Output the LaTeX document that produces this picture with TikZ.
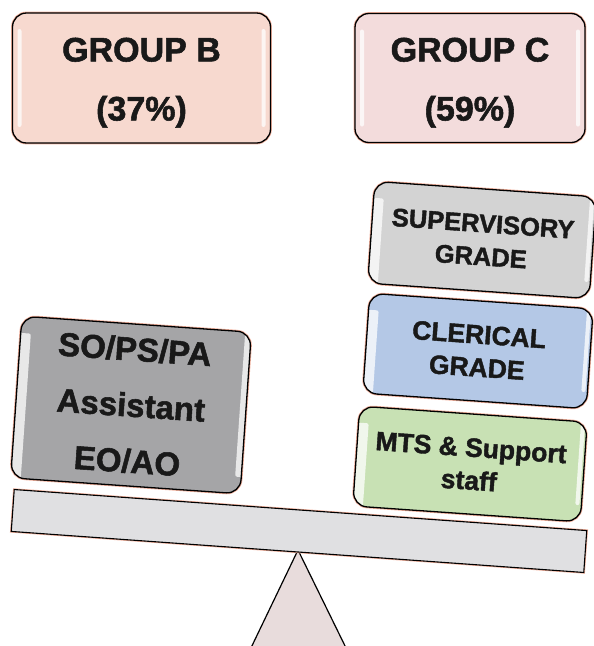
\documentclass[tikz,border=0pt]{standalone}
\usepackage{fontspec}
\setmainfont{Liberation Sans}[BoldFeatures={FakeBold=1.6}]
\definecolor{cB}{RGB}{247,217,207}
\definecolor{cC}{RGB}{243,220,220}
\definecolor{cSO}{RGB}{165,165,167}
\definecolor{cSup}{RGB}{211,211,211}
\definecolor{cCler}{RGB}{180,200,230}
\definecolor{cMTS}{RGB}{200,225,180}
\definecolor{cPlank}{RGB}{224,224,226}
\definecolor{cTri}{RGB}{232,220,220}
\definecolor{halo}{RGB}{240,175,155}
\definecolor{ink}{RGB}{25,25,25}
\begin{document}
\begin{tikzpicture}[x=1pt,y=-1pt,
  box/.style={draw=black, line width=1.3pt, rounded corners=14pt, align=center,
    inner sep=0pt, text=ink,
    preaction={draw=halo, line width=2.8pt},
    path picture={
      \fill[white, opacity=0.75, rounded corners=2pt]
        ([xshift=5pt,yshift=-16pt]path picture bounding box.north west) rectangle
        ([xshift=9pt,yshift=16pt]path picture bounding box.south west);
      \fill[white, opacity=0.75, rounded corners=2pt]
        ([xshift=-5pt,yshift=-16pt]path picture bounding box.north east) rectangle
        ([xshift=-9pt,yshift=16pt]path picture bounding box.south east);
    }},
  bigtxt/.style={font=\fontsize{34}{59}\selectfont\bfseries},
  lefttxt/.style={font=\fontsize{33}{56}\selectfont\bfseries},
  stacktxt/.style={font=\fontsize{26.5}{33}\selectfont\bfseries},
  suptxt/.style={font=\fontsize{25.5}{33}\selectfont\bfseries}
]
\useasboundingbox (0,0) rectangle (594,646);

% top boxes
\node[box, bigtxt, fill=cB, minimum width=258pt, minimum height=130pt] (gb) at (141.5,78) {\rule{0pt}{33pt}GROUP B\\(37\%)};
\node[box, bigtxt, fill=cC, minimum width=230pt, minimum height=129pt] (gc) at (470,78) {\rule{0pt}{33pt}GROUP C\\(59\%)};

% fulcrum
\draw[line width=1.2pt, fill=cTri] (298,550) -- (249,652) -- (348,652) -- cycle;

% plank
\node[draw=black, line width=1.1pt, fill=cPlank, minimum width=574pt, minimum height=42pt,
  inner sep=0pt, rotate=-4.1, preaction={draw=halo, line width=2.4pt}] (plank) at (299,531) {};

% left weight
\node[box, lefttxt, fill=cSO, minimum width=230pt, minimum height=162pt, rotate=-4] (so) at (131,405)
  {SO/PS/PA\\Assistant\\EO/AO};

% right stack
\node[box, suptxt, fill=cSup, minimum width=222pt, minimum height=102pt, rotate=-4] (sup) at (482,240)
  {SUPERVISORY\\GRADE};
\node[box, stacktxt, fill=cCler, minimum width=224pt, minimum height=100pt, rotate=-4] (cler) at (478,351)
  {CLERICAL\\GRADE};
\node[box, stacktxt, fill=cMTS, minimum width=228pt, minimum height=100pt, rotate=-4] (mts) at (470,464)
  {MTS \& Support\\staff};
\end{tikzpicture}
\end{document}
